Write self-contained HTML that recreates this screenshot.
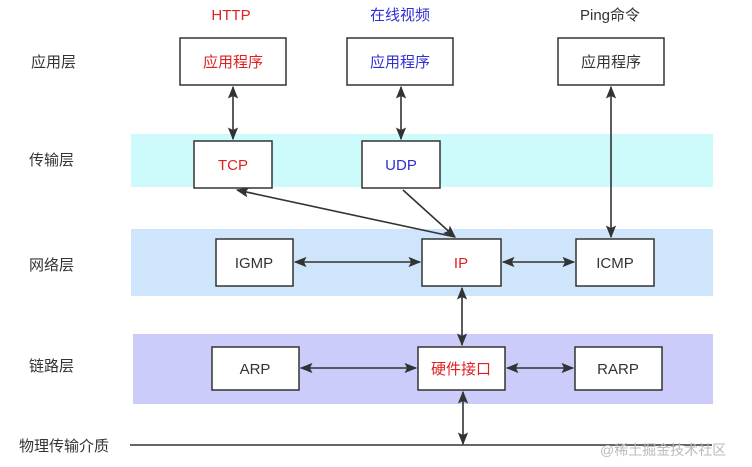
<!DOCTYPE html>
<html><head><meta charset="utf-8"><style>
body{margin:0;background:#fff;}
svg{display:block;}
text{font-family:"Liberation Sans","Noto Sans CJK SC",sans-serif;font-size:15px;}
</style></head><body>
<svg width="752" height="467" viewBox="0 0 752 467" xmlns="http://www.w3.org/2000/svg">
<defs>
<marker id="a" viewBox="0 0 10 10" refX="9" refY="5" markerWidth="8" markerHeight="8" orient="auto-start-reverse"><path d="M0,1 L10,5 L0,9 L2,5 z" fill="#333"/></marker>
</defs>
<rect x="131" y="134" width="582" height="53" fill="#cdfbfb"/>
<rect x="131" y="229" width="582" height="67" fill="#cfe5fb"/>
<rect x="133" y="334" width="580" height="70" fill="#ccccfb"/>
<g fill="#333" text-anchor="start">
<text x="31" y="67">应用层</text>
<text x="29" y="165">传输层</text>
<text x="29" y="270">网络层</text>
<text x="29" y="371">链路层</text>
<text x="19" y="451">物理传输介质</text>
</g>
<text x="231" y="20" text-anchor="middle" fill="#e02020">HTTP</text>
<text x="400" y="20" text-anchor="middle" fill="#3030d0">在线视频</text>
<text x="610" y="20" text-anchor="middle" fill="#333">Ping命令</text>
<g fill="#fff" stroke="#333" stroke-width="1.5">
<rect x="180" y="38" width="106" height="47"/>
<rect x="347" y="38" width="106" height="47"/>
<rect x="558" y="38" width="106" height="47"/>
<rect x="194" y="141" width="78" height="47"/>
<rect x="362" y="141" width="78" height="47"/>
<rect x="216" y="239" width="77" height="47"/>
<rect x="422" y="239" width="79" height="47"/>
<rect x="576" y="239" width="78" height="47"/>
<rect x="212" y="347" width="87" height="43"/>
<rect x="418" y="347" width="87" height="43"/>
<rect x="575" y="347" width="87" height="43"/>
</g>
<g text-anchor="middle">
<text x="233" y="67" fill="#e02020">应用程序</text>
<text x="400" y="67" fill="#3030d0">应用程序</text>
<text x="611" y="67" fill="#333">应用程序</text>
<text x="233" y="170" fill="#e02020">TCP</text>
<text x="401" y="170" fill="#3030d0">UDP</text>
<text x="254" y="268" fill="#333">IGMP</text>
<text x="461" y="268" fill="#e02020">IP</text>
<text x="615" y="268" fill="#333">ICMP</text>
<text x="255" y="374" fill="#333">ARP</text>
<text x="461" y="374" fill="#e02020">硬件接口</text>
<text x="618" y="374" fill="#333">RARP</text>
</g>
<g stroke="#333" stroke-width="1.6" fill="none">
<line x1="233" y1="87" x2="233" y2="139" marker-start="url(#a)" marker-end="url(#a)"/>
<line x1="401" y1="87" x2="401" y2="139" marker-start="url(#a)" marker-end="url(#a)"/>
<line x1="611" y1="87" x2="611" y2="237" marker-start="url(#a)" marker-end="url(#a)"/>
<line x1="455" y1="237" x2="237" y2="190" marker-end="url(#a)"/>
<line x1="403" y1="190" x2="455" y2="237" marker-end="url(#a)"/>
<line x1="295" y1="262" x2="420" y2="262" marker-start="url(#a)" marker-end="url(#a)"/>
<line x1="503" y1="262" x2="574" y2="262" marker-start="url(#a)" marker-end="url(#a)"/>
<line x1="462" y1="288" x2="462" y2="345" marker-start="url(#a)" marker-end="url(#a)"/>
<line x1="301" y1="368" x2="416" y2="368" marker-start="url(#a)" marker-end="url(#a)"/>
<line x1="507" y1="368" x2="573" y2="368" marker-start="url(#a)" marker-end="url(#a)"/>
<line x1="463" y1="392" x2="463" y2="444" marker-start="url(#a)" marker-end="url(#a)"/>
<line x1="130" y1="445" x2="712" y2="445"/>
</g>
<text x="600" y="455" fill="#bbb" style="font-size:14px">@稀土掘金技术社区</text>
</svg>
</body></html>
